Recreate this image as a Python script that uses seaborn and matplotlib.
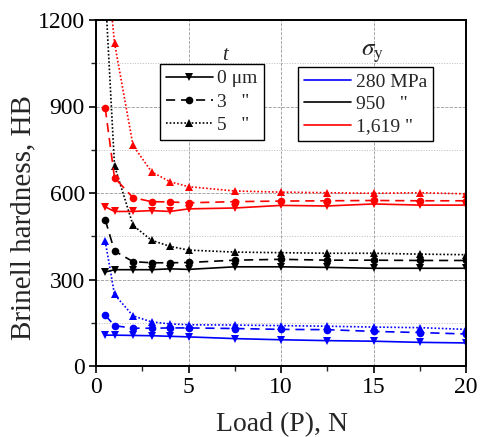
import pandas as pd
import matplotlib
matplotlib.use("Agg")
import matplotlib.pyplot as plt
from matplotlib.lines import Line2D
import seaborn as sns

# Load values (N)
load = [0.5, 1, 2, 3, 4, 5, 7.5, 10, 12.5, 15, 17.5, 20]

# Brinell hardness, per yield stress and coating thickness
hb_280_t0 = [107, 107, 106, 105, 103, 101, 95, 91, 88, 86, 82, 80]
hb_280_t3 = [176, 140, 131, 131, 132, 132, 130, 127, 126, 120, 116, 111]
hb_280_t5 = [433, 248, 174, 153, 146, 143, 142, 140, 138, 135, 133, 127]
hb_950_t0 = [326, 334, 334, 334, 337, 335, 344, 344, 342, 339, 339, 339]
hb_950_t3 = [507, 399, 362, 358, 358, 359, 367, 370, 367, 367, 366, 366]
hb_950_t5 = [1300, 695, 488, 436, 415, 402, 395, 393, 391, 391, 388, 386]
hb_1619_t0 = [552, 536, 536, 539, 536, 545, 548, 557, 555, 562, 558, 558]
hb_1619_t3 = [894, 653, 584, 570, 569, 566, 570, 572, 573, 574, 573, 573]
hb_1619_t5 = [1450, 1121, 765, 674, 639, 622, 607, 603, 601, 599, 601, 597]

sigma_labels = ["280 MPa", "950   \"", "1,619 \""]
t_labels = ["0 \u03bcm", "3   \"", "5   \""]

series = {
    ("280", 0): hb_280_t0, ("280", 3): hb_280_t3, ("280", 5): hb_280_t5,
    ("950", 0): hb_950_t0, ("950", 3): hb_950_t3, ("950", 5): hb_950_t5,
    ("1619", 0): hb_1619_t0, ("1619", 3): hb_1619_t3, ("1619", 5): hb_1619_t5,
}

colors = {"280": "#0000ff", "950": "#000000", "1619": "#ff0000"}
markers = {0: "v", 3: "o", 5: "^"}
dashes = {3: (5.5, 3.5), 5: (1, 1.2)}

sns.set_theme(style="ticks")
plt.rcParams["font.family"] = ["Liberation Serif", "DejaVu Serif"]
plt.rcParams["mathtext.fontset"] = "stix"

fig, ax = plt.subplots(figsize=(4.96, 4.37), dpi=100)
fig.subplots_adjust(left=96 / 496, right=466 / 496, top=1 - 20 / 437, bottom=1 - 366 / 437)

for (sig, t), vals in series.items():
    df = pd.DataFrame({"Load": load, "HB": vals})
    sns.lineplot(data=df, x="Load", y="HB", ax=ax, color=colors[sig],
                 marker=markers[t], markersize=5.5, markeredgewidth=0,
                 linewidth=1.2, linestyle="-")
    if t != 0:
        ax.lines[-1].set_dashes(dashes[t])

ax.set_xlim(0, 20)
ax.set_ylim(0, 1200)
ax.set_xticks([0, 5, 10, 15, 20])
ax.set_xticks([2.5, 7.5, 12.5, 17.5], minor=True)
ax.set_yticks([0, 300, 600, 900, 1200])
ax.set_yticks([150, 450, 750, 1050], minor=True)
ax.grid(True, which="major", color="#999999", linestyle="--", linewidth=0.6)
ax.grid(True, which="minor", axis="y", color="#bbbbbb", linestyle=":", linewidth=0.7)
ax.tick_params(which="major", direction="out", length=5, width=1.2, labelsize=17,
               colors="black", pad=3)
ax.tick_params(which="minor", direction="out", length=3.5, width=1.0)
for s in ax.spines.values():
    s.set_visible(True)
    s.set_linewidth(1.4)
    s.set_color("black")

ax.set_xlabel("Load (P), N", fontsize=20)
ax.set_ylabel("Brinell hardness, HB", fontsize=21)
ax.xaxis.set_label_coords(0.503, -0.188)
ax.xaxis.label.set_va("baseline")
ax.yaxis.set_label_coords(-0.197, 0.43)
ax.yaxis.label.set_va("center")

# legend for coating thickness
h1 = [Line2D([], [], color="black", marker=markers[t], markersize=5.5, markeredgewidth=0,
             linewidth=1.2, linestyle="-") for t in [0, 3, 5]]
h1[1].set_dashes(dashes[3])
h1[2].set_dashes(dashes[5])
leg1 = ax.legend(h1, t_labels, loc="upper left", bbox_to_anchor=(0.173, 0.873),
                 fontsize=14, frameon=True, fancybox=False, edgecolor="black",
                 handlelength=2.4, handletextpad=0.25, labelspacing=0.3,
                 borderpad=0.3, borderaxespad=0)
leg1.get_frame().set_linewidth(1.0)
leg1.get_frame().set_alpha(1)
ax.add_artist(leg1)

h2 = [Line2D([], [], color=colors[s], linewidth=1.2) for s in ["280", "950", "1619"]]
leg2 = ax.legend(h2, sigma_labels, loc="upper left", bbox_to_anchor=(0.546, 0.864),
                 fontsize=14, frameon=True, fancybox=False, edgecolor="black",
                 handlelength=2.4, handletextpad=0.3, labelspacing=0.25,
                 borderpad=0.3, borderaxespad=0)
leg2.get_frame().set_linewidth(1.0)
leg2.get_frame().set_alpha(1)

ax.text(0.349, 0.896, "t", transform=ax.transAxes, fontsize=15, style="italic",
        ha="center", va="center")
ax.text(0.746, 0.902, r"$\sigma_\mathrm{y}$", transform=ax.transAxes, fontsize=18,
        ha="center", va="center")

fig.savefig("out.png", dpi=100)
